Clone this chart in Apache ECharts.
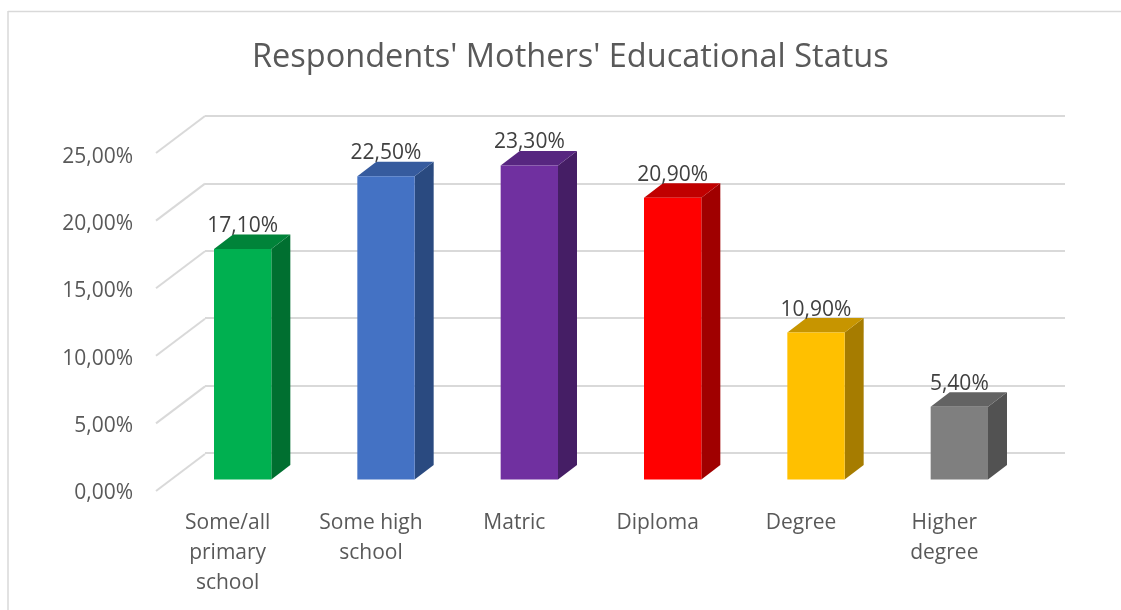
<!DOCTYPE html>
<html>
<head>
<meta charset="utf-8">
<style>
html, body { margin: 0; padding: 0; background: #fff; }
#chart { width: 1121px; height: 610px; }
</style>
<script src="https://cdn.jsdelivr.net/npm/echarts@6/dist/echarts.min.js"></script>
</head>
<body>
<div id="chart"></div>
<script>
const categories = ['Some/all\nprimary\nschool', 'Some high\nschool', 'Matric', 'Diploma', 'Degree', 'Higher\ndegree']
const values = [17.1, 22.5, 23.3, 20.9, 10.9, 5.4]
const yTicks = [0, 5, 10, 15, 20, 25]
const frontColors = ['#00b050', '#4472c4', '#7030a0', '#ff0000', '#ffc000', '#7f7f7f']
const topColors = ['#008339', '#365b9e', '#572680', '#c00000', '#c79500', '#636363']
const sideColors = ['#006f30', '#2a4a80', '#451e65', '#a00000', '#a67c00', '#525252']

const font = '"Open Sans", sans-serif'
const percent = (v) => v.toFixed(2).replace('.', ',') + '%'

// bar depth in px
const dx = 19
const dy = 14.5

const renderBar = (params, api) => {
	const i = api.value(0)
	const v = api.value(1)
	const top = api.coord([i, v])
	const base = api.coord([i, 0])
	const w = api.size([1, 0])[0] * 0.4
	const l = top[0] - w / 2
	const r = top[0] + w / 2
	return {
		type: 'group',
		children: [
			{
				type: 'polygon',
				shape: { points: [[r, top[1]], [r + dx, top[1] - dy], [r + dx, base[1] - dy], [r, base[1]]] },
				style: { fill: sideColors[i] }
			},
			{
				type: 'polygon',
				shape: { points: [[l, top[1]], [l + dx, top[1] - dy], [r + dx, top[1] - dy], [r, top[1]]] },
				style: { fill: topColors[i] }
			},
			{
				type: 'rect',
				shape: { x: l, y: top[1], width: w, height: base[1] - top[1] },
				style: { fill: frontColors[i] }
			},
			{
				type: 'text',
				style: {
					x: top[0],
					y: top[1] - dy + 2,
					text: percent(v),
					align: 'center',
					verticalAlign: 'bottom',
					fill: '#404040',
					font: '21px ' + font
				}
			}
		]
	}
}

// side wall lines, front edge to back wall
const renderSide = (params, api) => {
	const p = api.coord([0, api.value(0)])
	const x = p[0] - api.size([1, 0])[0] / 2
	return {
		type: 'line',
		shape: { x1: x, y1: p[1], x2: x + 49, y2: p[1] - 37 },
		style: { stroke: '#d9d9d9', lineWidth: 2 }
	}
}

const myChart = echarts.init(document.getElementById('chart'))
myChart.setOption({
	animation: false,
	backgroundColor: '#fff',
	title: {
		text: "Respondents' Mothers' Educational Status",
		left: 247,
		top: 36,
		textStyle: { color: '#595959', fontSize: 32.5, fontWeight: 'normal', fontFamily: font }
	},
	graphic: [
		{ type: 'line', shape: { x1: 8, y1: 11.5, x2: 1121, y2: 11.5 }, style: { stroke: '#d9d9d9', lineWidth: 1.5 } },
		{ type: 'line', shape: { x1: 8, y1: 11, x2: 8, y2: 610 }, style: { stroke: '#d9d9d9', lineWidth: 1.5 } }
	],
	grid: [
		// back wall
		{ left: 205, top: 116, width: 860, height: 337 },
		// front plane, side lines and category labels
		{ left: 156, top: 153, width: 860, height: 338 },
		// plane the bars stand on
		{ left: 171, top: 142.5, width: 860, height: 337 },
		// value labels sit a bit off the front edge
		{ left: 156, top: 157, width: 860, height: 336 }
	],
	xAxis: [
		{ gridIndex: 0, type: 'category', data: categories, show: false },
		{
			gridIndex: 1,
			type: 'category',
			data: categories,
			axisLine: { show: false },
			axisTick: { show: false },
			axisLabel: { color: '#595959', fontSize: 21, fontFamily: font, lineHeight: 30, margin: 17 }
		},
		{ gridIndex: 2, type: 'category', data: categories, show: false },
		{ gridIndex: 3, type: 'category', data: categories, show: false }
	],
	yAxis: [
		{
			gridIndex: 0,
			type: 'value',
			min: 0,
			max: 25,
			interval: 5,
			axisLine: { show: false },
			axisTick: { show: false },
			axisLabel: { show: false },
			splitLine: { lineStyle: { color: '#d9d9d9', width: 2 } }
		},
		{ gridIndex: 1, type: 'value', min: 0, max: 25, interval: 5, show: false },
		{ gridIndex: 2, type: 'value', min: 0, max: 25, interval: 5, show: false },
		{
			gridIndex: 3,
			type: 'value',
			min: 0,
			max: 25,
			interval: 5,
			axisLine: { show: false },
			axisTick: { show: false },
			splitLine: { show: false },
			axisLabel: { color: '#595959', fontSize: 21, fontFamily: font, margin: 23, formatter: percent }
		}
	],
	series: [
		{
			type: 'custom',
			xAxisIndex: 1,
			yAxisIndex: 1,
			renderItem: renderSide,
			encode: { y: 0 },
			data: yTicks.map((t) => [t]),
			silent: true
		},
		{
			type: 'custom',
			xAxisIndex: 2,
			yAxisIndex: 2,
			renderItem: renderBar,
			encode: { x: 0, y: 1 },
			data: values.map((v, i) => [i, v]),
			z: 5
		}
	]
})
</script>
</body>
</html>
